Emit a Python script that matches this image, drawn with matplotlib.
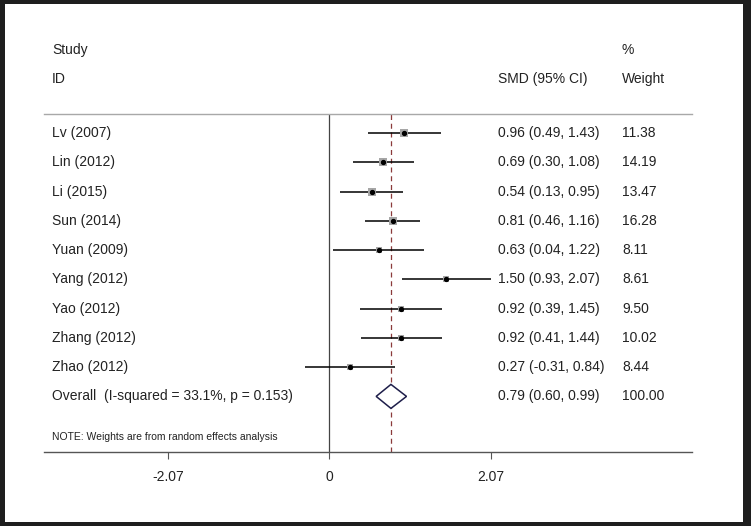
import numpy as np
import matplotlib
matplotlib.use("Agg")
import matplotlib.pyplot as plt
from matplotlib.patches import Rectangle, Polygon
from matplotlib.transforms import blended_transform_factory

plt.rcParams['font.family'] = ['Liberation Sans', 'DejaVu Sans']

studies = ["Lv (2007)", "Lin (2012)", "Li (2015)", "Sun (2014)", "Yuan (2009)",
           "Yang (2012)", "Yao (2012)", "Zhang (2012)", "Zhao (2012)"]
smd = [0.96, 0.69, 0.54, 0.81, 0.63, 1.50, 0.92, 0.92, 0.27]
lower = [0.49, 0.30, 0.13, 0.46, 0.04, 0.93, 0.39, 0.41, -0.31]
upper = [1.43, 1.08, 0.95, 1.16, 1.22, 2.07, 1.45, 1.44, 0.84]
weights = [11.38, 14.19, 13.47, 16.28, 8.11, 8.61, 9.50, 10.02, 8.44]
overall = (0.79, 0.60, 0.99)
overall_label = "Overall  (I-squared = 33.1%, p = 0.153)"
tick_vals = [-2.07, 0, 2.07]

W, H = 751, 526
fig = plt.figure(figsize=(W / 100, H / 100), dpi=100)
fig.patch.set_facecolor('#1e1e1e')
fig.patches.append(Rectangle((5 / W, 4 / H), (W - 13) / W, (H - 8) / H,
                             transform=fig.transFigure, facecolor='white',
                             edgecolor='none', zorder=-10))

# axes box in pixels: x 44..692, y 114..452
ax = fig.add_axes([44 / W, 1 - 452 / H, (692 - 44) / W, (452 - 114) / H])
ax.set_facecolor('none')
ax.set_xlim(-3.67, 4.66)
ax.set_ylim(10.9, -0.65)

for s in ['left', 'right']:
    ax.spines[s].set_visible(False)
ax.spines['top'].set_color('#a8a8a8')
ax.spines['bottom'].set_color('#555555')
ax.spines['top'].set_linewidth(1.0)
ax.spines['bottom'].set_linewidth(1.0)

ax.set_yticks([])
ax.set_xticks(tick_vals)
ax.set_xticklabels(["-2.07", "0", "2.07"])
ax.tick_params(axis='x', direction='out', length=5, width=0.8, color='#555555',
               labelsize=10, labelcolor='#222222', pad=8)

ax.axvline(0, color='#444444', lw=0.9)
ax.axvline(overall[0], color='#8b3a3a', lw=0.9, ls=(0, (4, 3)))

rows = np.arange(len(studies))
for i in rows:
    ax.plot([lower[i], upper[i]], [i, i], color='black', lw=1.1, solid_capstyle='butt')
    ax.plot(smd[i], i, marker='s', color='#a6a6a6', markersize=1.5 * np.sqrt(weights[i]),
            markeredgewidth=0, linestyle='none')
    ax.plot(smd[i], i, marker='o', color='black', markersize=2.8, linestyle='none')

# pooled estimate diamond
oy = len(studies)
dia = Polygon([[overall[1], oy], [overall[0], oy - 0.41], [overall[2], oy], [overall[0], oy + 0.41]],
              closed=True, facecolor='white', edgecolor='#1e1e4a', lw=1.1, zorder=3)
ax.add_patch(dia)

tr = blended_transform_factory(fig.transFigure, ax.transData)
fs = 10
tc = '#222222'
x_lab, x_ci, x_w = 52 / W, 498 / W, 622 / W

ax.text(x_lab, -2.84, "Study", transform=tr, fontsize=fs, color=tc, va='center')
ax.text(x_lab, -1.85, "ID", transform=tr, fontsize=fs, color=tc, va='center')
ax.text(x_ci, -1.85, "SMD (95% CI)", transform=tr, fontsize=fs, color=tc, va='center')
ax.text(x_w, -2.84, "%", transform=tr, fontsize=fs, color=tc, va='center')
ax.text(x_w, -1.85, "Weight", transform=tr, fontsize=fs, color=tc, va='center')

for i in rows:
    ax.text(x_lab, i, studies[i], transform=tr, fontsize=fs, color=tc, va='center')
    ax.text(x_ci, i, f"{smd[i]:.2f} ({lower[i]:.2f}, {upper[i]:.2f})", transform=tr,
            fontsize=fs, color=tc, va='center')
    ax.text(x_w, i, f"{weights[i]:.2f}", transform=tr, fontsize=fs, color=tc, va='center')

ax.text(x_lab, oy, overall_label, transform=tr, fontsize=fs, color=tc, va='center')
ax.text(x_ci, oy, f"{overall[0]:.2f} ({overall[1]:.2f}, {overall[2]:.2f})", transform=tr,
        fontsize=fs, color=tc, va='center')
ax.text(x_w, oy, "100.00", transform=tr, fontsize=fs, color=tc, va='center')
ax.text(x_lab, 10.4, "NOTE: Weights are from random effects analysis", transform=tr,
        fontsize=7.5, color=tc, va='center')

fig.savefig("out.png", dpi=100, facecolor=fig.get_facecolor())
